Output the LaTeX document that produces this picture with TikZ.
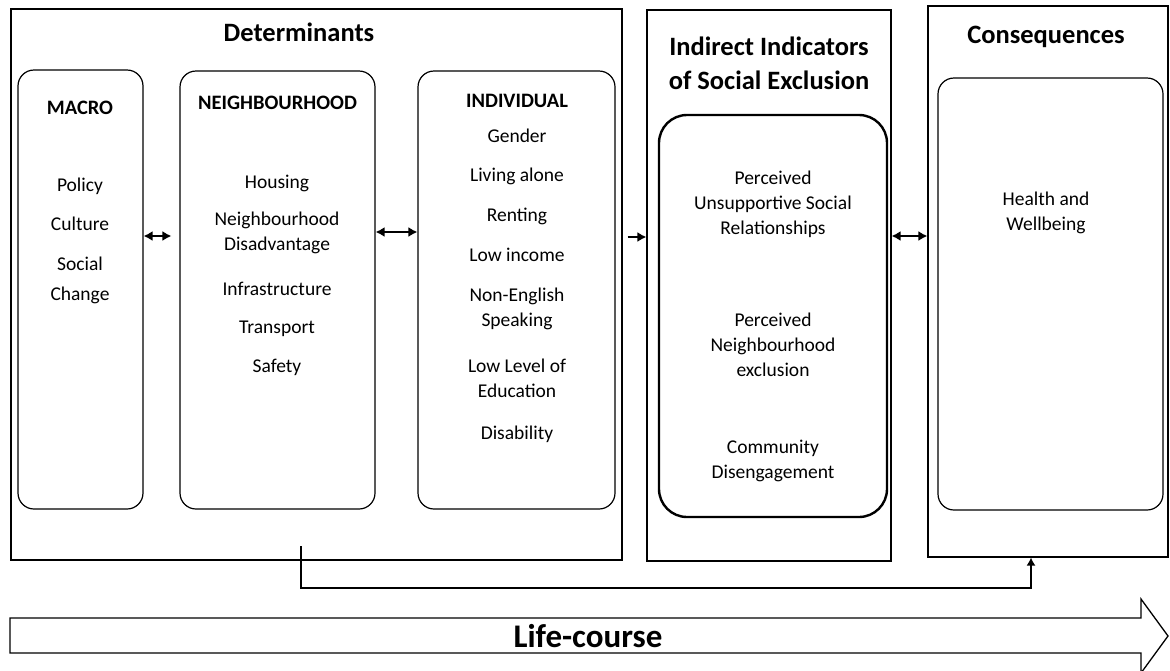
\documentclass[tikz,border=0pt]{standalone}
\usepackage{fontspec}
\setmainfont{Carlito}
\usetikzlibrary{arrows.meta,positioning}

\begin{document}
\begin{tikzpicture}[x=1pt,y=-1pt,
  panel/.style={draw,line width=1.2pt,inner sep=0pt},
  group/.style={draw,line width=1.2pt,rounded corners=16pt,inner sep=0pt},
  heavygroup/.style={draw,line width=2.4pt,rounded corners=28pt,inner sep=0pt},
  title/.style={align=center,font=\fontsize{26.5}{34}\selectfont\bfseries,inner sep=0pt},
  head/.style={font=\fontsize{20.5}{24}\selectfont\bfseries,inner sep=0pt},
  item/.style={align=center,font=\fontsize{19.5}{25}\selectfont,inner sep=0pt,anchor=north},
  twoway/.style={line width=1.6pt,{Latex[length=9pt,width=10pt]}-{Latex[length=9pt,width=10pt]}},
  link/.style={line width=1.6pt,-{Latex[length=9pt,width=10pt]}}]
\useasboundingbox (0,0) rectangle (1170,670);

\node[panel,minimum width=611pt,minimum height=551pt] (det) at (316.5,284.5) {};
\node[panel,minimum width=244pt,minimum height=551pt] (indir) at (769,285.5) {};
\node[panel,minimum width=240pt,minimum height=551pt] (cons) at (1048,281.5) {};

\node[group,minimum width=125pt,minimum height=439pt] (macro) at (80.5,289.5) {};
\node[group,minimum width=195pt,minimum height=438pt] (neigh) at (277.5,290) {};
\node[group,minimum width=197pt,minimum height=438pt] (indiv) at (516.5,290) {};
\node[heavygroup,minimum width=228pt,minimum height=402pt] (indirin) at (773,316) {};
\node[group,minimum width=225pt,minimum height=432pt] (consin) at (1050.5,294) {};

\node[title] (dettitle) at (299,32) {Determinants};
\node[title] (indirtitle) at (769,63) {Indirect Indicators\\of Social Exclusion};
\node[title] (constitle) at (1046,37) {Consequences};

\node[head] (macrohead) at (80,108) {MACRO};
\node[head] (neighhead) at (277.5,103) {NEIGHBOURHOOD};
\node[head] (indivhead) at (517,101) {INDIVIDUAL};

\node[item] (macrolist) at (80,178) {Policy\\[14pt]Culture\\[15pt]Social\\[5pt]Change};
\node[item] (neighlist) at (277,175) {Housing\\[12pt]Neighbourhood\\Disadvantage\\[20pt]Infrastructure\\[13pt]Transport\\[14pt]Safety};
\node[item] (indivlist) at (517,129) {Gender\\[14pt]Living alone\\[15pt]Renting\\[15pt]Low income\\[15pt]Non-English\\Speaking\\[21pt]Low Level of\\Education\\[17pt]Disability};
\node[item] (indirlist) at (773,171) {Perceived\\Unsupportive Social\\Relationships\\[67pt]Perceived\\Neighbourhood\\exclusion\\[52pt]Community\\Disengagement};
\node[item] (conslist) at (1046,192) {Health and\\Wellbeing};

\draw[twoway] (macro.east |- 0,236) -- ([xshift=-8pt]neigh.west |- 0,236);
\draw[twoway] (neigh.east |- 0,232) -- (indiv.west |- 0,232);
\draw[link] ([xshift=5pt]det.east |- 0,237) -- (indir.west |- 0,237);
\draw[twoway] (indir.east |- 0,236) -- (cons.west |- 0,236);

\coordinate (lcstart) at (301,546);
\coordinate (lcturn) at (1031,588);
\draw[line width=1.3pt,-{Latex[length=8pt,width=9pt]}] (lcstart) |- (lcturn) -- (lcturn |- cons.south);

\draw[line width=1.3pt] (10,618) -- (1141,618) -- (1141,599) -- (1168,636) -- (1141,673) -- (1141,653) -- (10,653) -- cycle;
\node[font=\fontsize{33}{36}\selectfont\bfseries,inner sep=0pt] (lifecourse) at (588,636) {Life-course};
\end{tikzpicture}
\end{document}
